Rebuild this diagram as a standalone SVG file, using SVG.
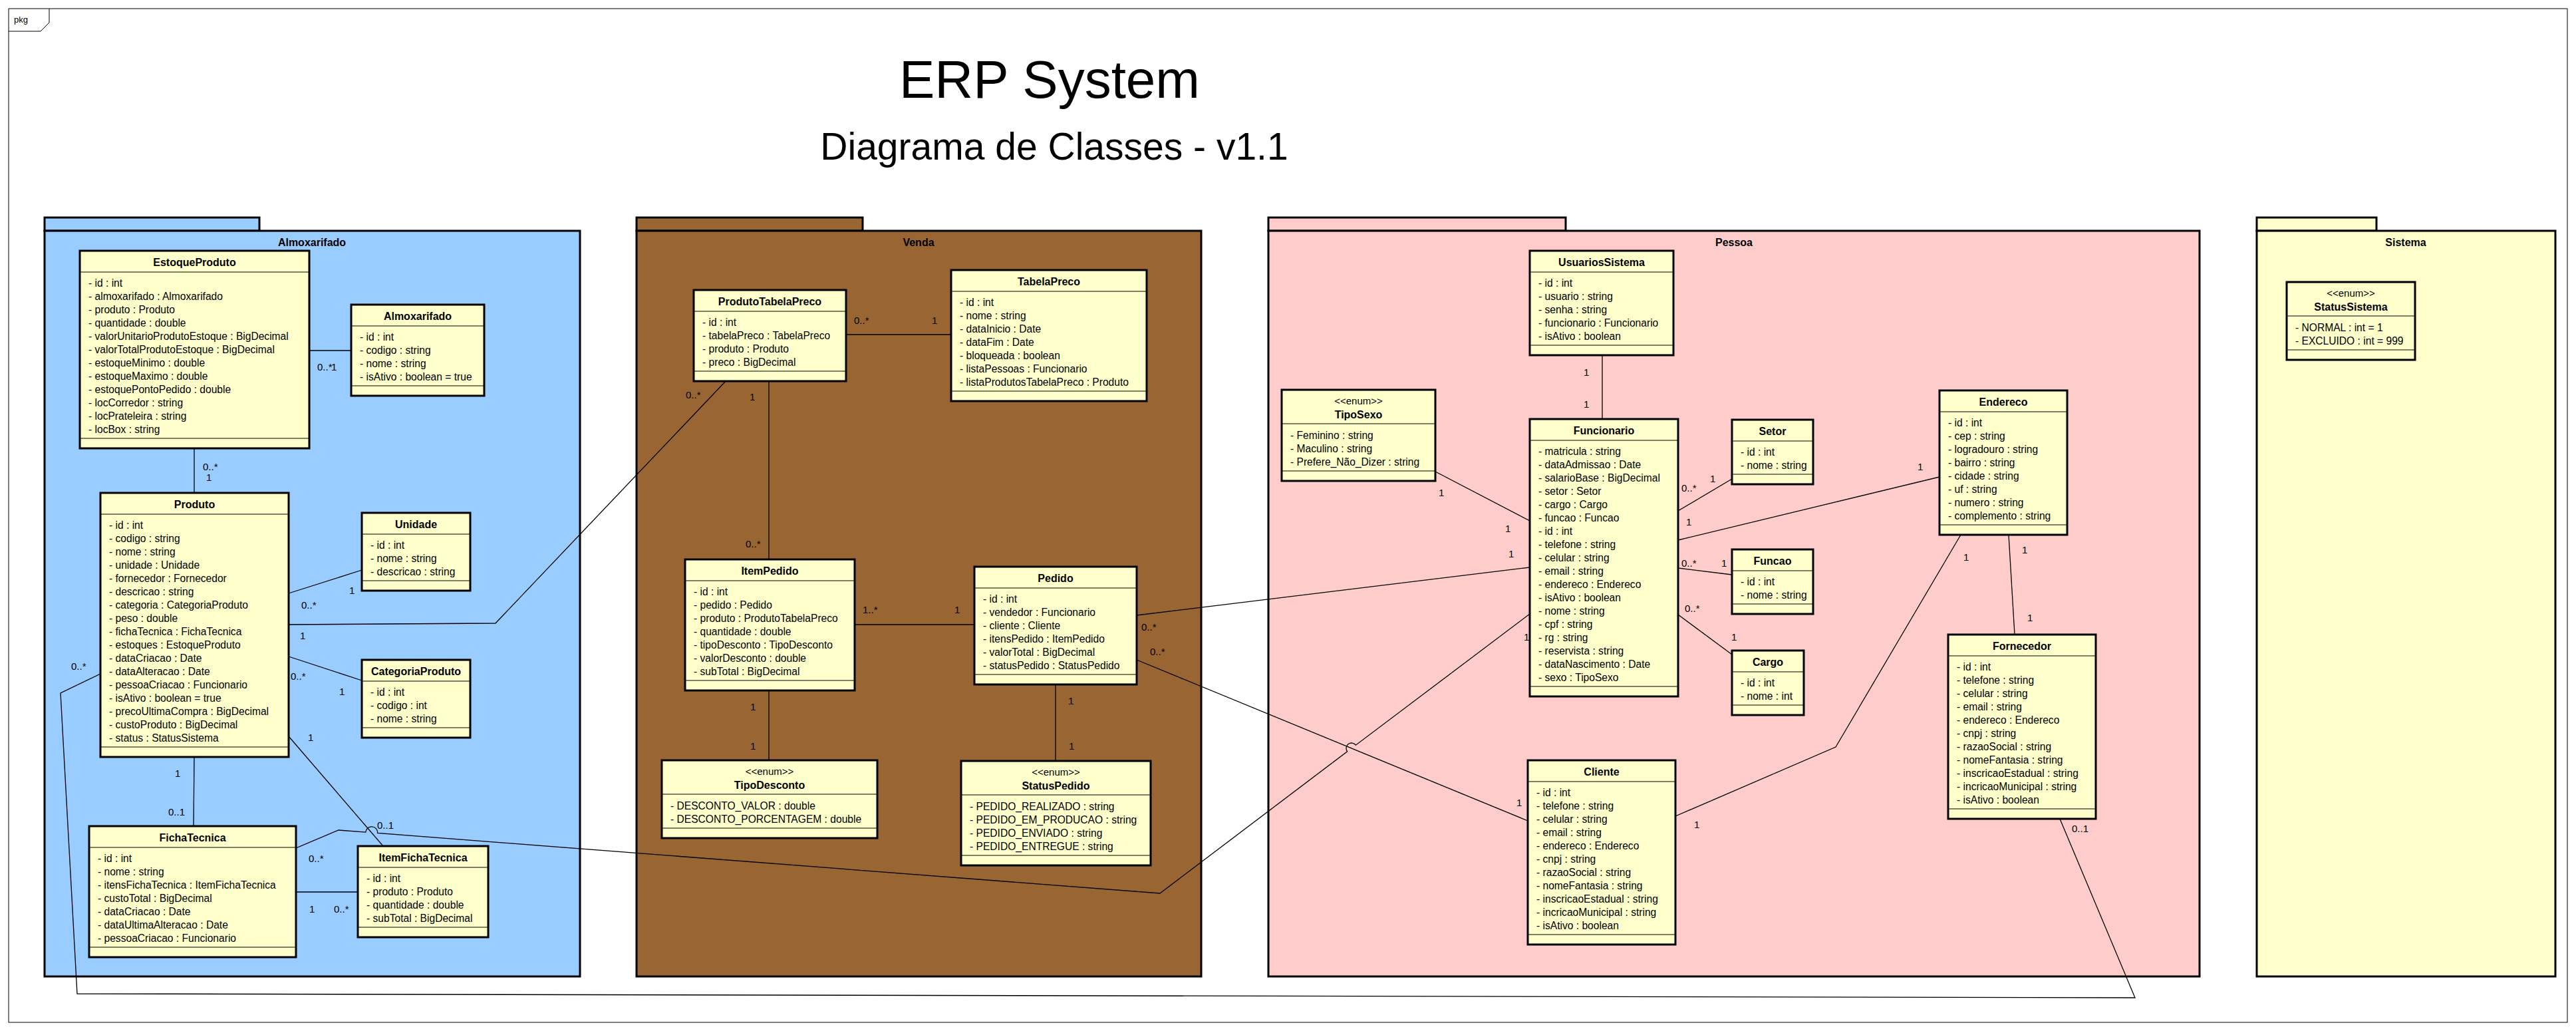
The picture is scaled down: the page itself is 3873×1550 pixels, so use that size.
<svg xmlns="http://www.w3.org/2000/svg" width="3873" height="1550" viewBox="0 0 3873 1550">
<style>
text{font-family:"Liberation Sans",Arial,sans-serif;fill:#000}
.pk{stroke:#000;stroke-width:3}
.c{fill:#FFFFCC;stroke:#000;stroke-width:3}
.s{stroke:#000;stroke-width:1}
.t{font-size:16px;font-weight:bold;text-anchor:middle}
.a{font-size:15.6px}
.e{font-size:15px;text-anchor:middle}
.m{font-size:15px}
.pl{font-size:16px;font-weight:bold;text-anchor:middle}
.ln{fill:none;stroke:#000;stroke-width:1.3}
</style>
<rect x="0" y="0" width="3873" height="1550" fill="#fff"/>
<g id="frame">
<rect x="13" y="13" width="3847" height="1524" fill="none" stroke="#000" stroke-width="1"/>
<path d="M13,47 H61 L74,34 V13" fill="none" stroke="#000" stroke-width="1"/>
<text x="21" y="34" style="font-size:13px">pkg</text>
<text x="1578" y="147" style="font-size:80px;text-anchor:middle">ERP System</text>
<text x="1585" y="240" style="font-size:57px;text-anchor:middle">Diagrama de Classes - v1.1</text>
</g>
<g id="pkg-Almoxarifado">
<rect class="pk" x="67" y="327" width="323" height="20" fill="#99CCFF"/>
<rect class="pk" x="67" y="347" width="805" height="1121" fill="#99CCFF"/>
<text class="pl" x="469" y="370">Almoxarifado</text>
</g>
<g id="pkg-Venda">
<rect class="pk" x="957" y="327" width="340" height="20" fill="#996633"/>
<rect class="pk" x="957" y="347" width="849" height="1121" fill="#996633"/>
<text class="pl" x="1381" y="370">Venda</text>
</g>
<g id="pkg-Pessoa">
<rect class="pk" x="1907" y="327" width="447" height="20" fill="#FFCCCC"/>
<rect class="pk" x="1907" y="347" width="1400" height="1121" fill="#FFCCCC"/>
<text class="pl" x="2607" y="370">Pessoa</text>
</g>
<g id="pkg-Sistema">
<rect class="pk" x="3393" y="327" width="180" height="20" fill="#FFFFCC"/>
<rect class="pk" x="3393" y="347" width="449" height="1121" fill="#FFFFCC"/>
<text class="pl" x="3617" y="370">Sistema</text>
</g>
<g id="connectors">
<path class="ln" d="M465,527 H528"/>
<path class="ln" d="M292,674 V741"/>
<path class="ln" d="M434,892 L544,857"/>
<path class="ln" d="M434,939 L745,937 L1092,572"/>
<path class="ln" d="M434,987 L544,1023"/>
<path class="ln" d="M434,1107 L576,1272"/>
<path class="ln" d="M292,1138 L291,1242"/>
<path class="ln" d="M445,1341 H538"/>
<path class="ln" d="M445,1275 L509,1248 L549.7,1251.1 A9,9 0 0 1 567.7,1252.5 L1744,1343 L2025.6,1129.8 A8,8 0 0 1 2038.4,1120.2 L2300,923"/>
<path class="ln" d="M151,1013 L91,1042 L116,1494 L3210,1500 L3097,1231"/>
<path class="ln" d="M1272,503 H1430"/>
<path class="ln" d="M1156,572 V841"/>
<path class="ln" d="M1285,939 H1465"/>
<path class="ln" d="M1156,1038 V1143"/>
<path class="ln" d="M1587,1029 V1144"/>
<path class="ln" d="M1709,925 L2300,853"/>
<path class="ln" d="M1709,992 L2297,1234"/>
<path class="ln" d="M2409,534 V630"/>
<path class="ln" d="M2158,709 L2300,783"/>
<path class="ln" d="M2523,768 L2604,720"/>
<path class="ln" d="M2523,812 L2916,717"/>
<path class="ln" d="M2523,854 L2604,864"/>
<path class="ln" d="M2523,924 L2604,984"/>
<path class="ln" d="M2519,1227 L2760,1123 L2948,804"/>
<path class="ln" d="M3020,804 L3029,954"/>
<text class="m" x="477" y="557">0..*</text><text class="m" x="498" y="557">1</text>
<text class="m" x="305" y="707">0..*</text><text class="m" x="310" y="723">1</text>
<text class="m" x="525" y="893">1</text><text class="m" x="453" y="915">0..*</text>
<text class="m" x="451" y="961">1</text><text class="m" x="1031" y="599">0..*</text>
<text class="m" x="437" y="1022">0..*</text><text class="m" x="510" y="1045">1</text>
<text class="m" x="463" y="1114">1</text><text class="m" x="567" y="1246">0..1</text>
<text class="m" x="263" y="1168">1</text><text class="m" x="253" y="1226">0..1</text>
<text class="m" x="465" y="1372">1</text><text class="m" x="502" y="1372">0..*</text>
<text class="m" x="464" y="1296">0..*</text><text class="m" x="2291" y="963">1</text>
<text class="m" x="107" y="1007">0..*</text><text class="m" x="3115" y="1251">0..1</text>
<text class="m" x="1284" y="487">0..*</text><text class="m" x="1401" y="487">1</text>
<text class="m" x="1127" y="602">1</text><text class="m" x="1121" y="823">0..*</text>
<text class="m" x="1297" y="922">1..*</text><text class="m" x="1435" y="922">1</text>
<text class="m" x="1128" y="1068">1</text><text class="m" x="1128" y="1127">1</text>
<text class="m" x="1606" y="1059">1</text><text class="m" x="1607" y="1127">1</text>
<text class="m" x="1716" y="948">0..*</text><text class="m" x="2268" y="838">1</text>
<text class="m" x="1729" y="985">0..*</text><text class="m" x="2280" y="1212">1</text>
<text class="m" x="2381" y="565">1</text><text class="m" x="2381" y="613">1</text>
<text class="m" x="2163" y="746">1</text><text class="m" x="2263" y="800">1</text>
<text class="m" x="2528" y="739">0..*</text><text class="m" x="2571" y="725">1</text>
<text class="m" x="2535" y="790">1</text><text class="m" x="2883" y="707">1</text>
<text class="m" x="2528" y="852">0..*</text><text class="m" x="2588" y="852">1</text>
<text class="m" x="2533" y="920">0..*</text><text class="m" x="2603" y="963">1</text>
<text class="m" x="2547" y="1245">1</text><text class="m" x="2952" y="843">1</text>
<text class="m" x="3040" y="832">1</text><text class="m" x="3048" y="934">1</text>
</g>
<g id="EstoqueProduto">
<rect class="c" x="120" y="377" width="345" height="297"/>
<text class="t" x="292.5" y="400">EstoqueProduto</text>
<line class="s" x1="121" y1="409" x2="464" y2="409"/>
<text class="a" x="133" y="431">- id : int</text>
<text class="a" x="133" y="451">- almoxarifado : Almoxarifado</text>
<text class="a" x="133" y="471">- produto : Produto</text>
<text class="a" x="133" y="491">- quantidade : double</text>
<text class="a" x="133" y="511">- valorUnitarioProdutoEstoque : BigDecimal</text>
<text class="a" x="133" y="531">- valorTotalProdutoEstoque : BigDecimal</text>
<text class="a" x="133" y="551">- estoqueMinimo : double</text>
<text class="a" x="133" y="571">- estoqueMaximo : double</text>
<text class="a" x="133" y="591">- estoquePontoPedido : double</text>
<text class="a" x="133" y="611">- locCorredor : string</text>
<text class="a" x="133" y="631">- locPrateleira : string</text>
<text class="a" x="133" y="651">- locBox : string</text>
<line class="s" x1="121" y1="659" x2="464" y2="659"/>
</g>
<g id="Almoxarifado">
<rect class="c" x="528" y="458" width="200" height="137"/>
<text class="t" x="628" y="481">Almoxarifado</text>
<line class="s" x1="529" y1="490" x2="727" y2="490"/>
<text class="a" x="541" y="512">- id : int</text>
<text class="a" x="541" y="532">- codigo : string</text>
<text class="a" x="541" y="552">- nome : string</text>
<text class="a" x="541" y="572">- isAtivo : boolean = true</text>
<line class="s" x1="529" y1="580" x2="727" y2="580"/>
</g>
<g id="Produto">
<rect class="c" x="151" y="741" width="283" height="397"/>
<text class="t" x="292.5" y="764">Produto</text>
<line class="s" x1="152" y1="773" x2="433" y2="773"/>
<text class="a" x="164" y="795">- id : int</text>
<text class="a" x="164" y="815">- codigo : string</text>
<text class="a" x="164" y="835">- nome : string</text>
<text class="a" x="164" y="855">- unidade : Unidade</text>
<text class="a" x="164" y="875">- fornecedor : Fornecedor</text>
<text class="a" x="164" y="895">- descricao : string</text>
<text class="a" x="164" y="915">- categoria : CategoriaProduto</text>
<text class="a" x="164" y="935">- peso : double</text>
<text class="a" x="164" y="955">- fichaTecnica : FichaTecnica</text>
<text class="a" x="164" y="975">- estoques : EstoqueProduto</text>
<text class="a" x="164" y="995">- dataCriacao : Date</text>
<text class="a" x="164" y="1015">- dataAlteracao : Date</text>
<text class="a" x="164" y="1035">- pessoaCriacao : Funcionario</text>
<text class="a" x="164" y="1055">- isAtivo : boolean = true</text>
<text class="a" x="164" y="1075">- precoUltimaCompra : BigDecimal</text>
<text class="a" x="164" y="1095">- custoProduto : BigDecimal</text>
<text class="a" x="164" y="1115">- status : StatusSistema</text>
<line class="s" x1="152" y1="1123" x2="433" y2="1123"/>
</g>
<g id="Unidade">
<rect class="c" x="544" y="771" width="163" height="117"/>
<text class="t" x="625.5" y="794">Unidade</text>
<line class="s" x1="545" y1="803" x2="706" y2="803"/>
<text class="a" x="557" y="825">- id : int</text>
<text class="a" x="557" y="845">- nome : string</text>
<text class="a" x="557" y="865">- descricao : string</text>
<line class="s" x1="545" y1="873" x2="706" y2="873"/>
</g>
<g id="CategoriaProduto">
<rect class="c" x="544" y="992" width="163" height="117"/>
<text class="t" x="625.5" y="1015">CategoriaProduto</text>
<line class="s" x1="545" y1="1024" x2="706" y2="1024"/>
<text class="a" x="557" y="1046">- id : int</text>
<text class="a" x="557" y="1066">- codigo : int</text>
<text class="a" x="557" y="1086">- nome : string</text>
<line class="s" x1="545" y1="1094" x2="706" y2="1094"/>
</g>
<g id="FichaTecnica">
<rect class="c" x="134" y="1242" width="311" height="197"/>
<text class="t" x="289.5" y="1265">FichaTecnica</text>
<line class="s" x1="135" y1="1274" x2="444" y2="1274"/>
<text class="a" x="147" y="1296">- id : int</text>
<text class="a" x="147" y="1316">- nome : string</text>
<text class="a" x="147" y="1336">- itensFichaTecnica : ItemFichaTecnica</text>
<text class="a" x="147" y="1356">- custoTotal : BigDecimal</text>
<text class="a" x="147" y="1376">- dataCriacao : Date</text>
<text class="a" x="147" y="1396">- dataUltimaAlteracao : Date</text>
<text class="a" x="147" y="1416">- pessoaCriacao : Funcionario</text>
<line class="s" x1="135" y1="1424" x2="444" y2="1424"/>
</g>
<g id="ItemFichaTecnica">
<rect class="c" x="538" y="1272" width="196" height="137"/>
<text class="t" x="636" y="1295">ItemFichaTecnica</text>
<line class="s" x1="539" y1="1304" x2="733" y2="1304"/>
<text class="a" x="551" y="1326">- id : int</text>
<text class="a" x="551" y="1346">- produto : Produto</text>
<text class="a" x="551" y="1366">- quantidade : double</text>
<text class="a" x="551" y="1386">- subTotal : BigDecimal</text>
<line class="s" x1="539" y1="1394" x2="733" y2="1394"/>
</g>
<g id="ProdutoTabelaPreco">
<rect class="c" x="1043" y="436" width="229" height="137"/>
<text class="t" x="1157.5" y="459">ProdutoTabelaPreco</text>
<line class="s" x1="1044" y1="468" x2="1271" y2="468"/>
<text class="a" x="1056" y="490">- id : int</text>
<text class="a" x="1056" y="510">- tabelaPreco : TabelaPreco</text>
<text class="a" x="1056" y="530">- produto : Produto</text>
<text class="a" x="1056" y="550">- preco : BigDecimal</text>
<line class="s" x1="1044" y1="558" x2="1271" y2="558"/>
</g>
<g id="TabelaPreco">
<rect class="c" x="1430" y="406" width="294" height="197"/>
<text class="t" x="1577" y="429">TabelaPreco</text>
<line class="s" x1="1431" y1="438" x2="1723" y2="438"/>
<text class="a" x="1443" y="460">- id : int</text>
<text class="a" x="1443" y="480">- nome : string</text>
<text class="a" x="1443" y="500">- dataInicio : Date</text>
<text class="a" x="1443" y="520">- dataFim : Date</text>
<text class="a" x="1443" y="540">- bloqueada : boolean</text>
<text class="a" x="1443" y="560">- listaPessoas : Funcionario</text>
<text class="a" x="1443" y="580">- listaProdutosTabelaPreco : Produto</text>
<line class="s" x1="1431" y1="588" x2="1723" y2="588"/>
</g>
<g id="ItemPedido">
<rect class="c" x="1030" y="841" width="255" height="197"/>
<text class="t" x="1157.5" y="864">ItemPedido</text>
<line class="s" x1="1031" y1="873" x2="1284" y2="873"/>
<text class="a" x="1043" y="895">- id : int</text>
<text class="a" x="1043" y="915">- pedido : Pedido</text>
<text class="a" x="1043" y="935">- produto : ProdutoTabelaPreco</text>
<text class="a" x="1043" y="955">- quantidade : double</text>
<text class="a" x="1043" y="975">- tipoDesconto : TipoDesconto</text>
<text class="a" x="1043" y="995">- valorDesconto : double</text>
<text class="a" x="1043" y="1015">- subTotal : BigDecimal</text>
<line class="s" x1="1031" y1="1023" x2="1284" y2="1023"/>
</g>
<g id="Pedido">
<rect class="c" x="1465" y="852" width="244" height="177"/>
<text class="t" x="1587" y="875">Pedido</text>
<line class="s" x1="1466" y1="884" x2="1708" y2="884"/>
<text class="a" x="1478" y="906">- id : int</text>
<text class="a" x="1478" y="926">- vendedor : Funcionario</text>
<text class="a" x="1478" y="946">- cliente : Cliente</text>
<text class="a" x="1478" y="966">- itensPedido : ItemPedido</text>
<text class="a" x="1478" y="986">- valorTotal : BigDecimal</text>
<text class="a" x="1478" y="1006">- statusPedido : StatusPedido</text>
<line class="s" x1="1466" y1="1014" x2="1708" y2="1014"/>
</g>
<g id="TipoDesconto">
<rect class="c" x="995" y="1143" width="324" height="117"/>
<text class="e" x="1157" y="1165">&lt;&lt;enum&gt;&gt;</text>
<text class="t" x="1157" y="1186">TipoDesconto</text>
<line class="s" x1="996" y1="1194" x2="1318" y2="1194"/>
<text class="a" x="1008" y="1217">- DESCONTO_VALOR : double</text>
<text class="a" x="1008" y="1237">- DESCONTO_PORCENTAGEM : double</text>
<line class="s" x1="996" y1="1245" x2="1318" y2="1245"/>
</g>
<g id="StatusPedido">
<rect class="c" x="1445" y="1144" width="285" height="157"/>
<text class="e" x="1587.5" y="1166">&lt;&lt;enum&gt;&gt;</text>
<text class="t" x="1587.5" y="1187">StatusPedido</text>
<line class="s" x1="1446" y1="1195" x2="1729" y2="1195"/>
<text class="a" x="1458" y="1218">- PEDIDO_REALIZADO : string</text>
<text class="a" x="1458" y="1238">- PEDIDO_EM_PRODUCAO : string</text>
<text class="a" x="1458" y="1258">- PEDIDO_ENVIADO : string</text>
<text class="a" x="1458" y="1278">- PEDIDO_ENTREGUE : string</text>
<line class="s" x1="1446" y1="1286" x2="1729" y2="1286"/>
</g>
<g id="UsuariosSistema">
<rect class="c" x="2300" y="377" width="216" height="157"/>
<text class="t" x="2408" y="400">UsuariosSistema</text>
<line class="s" x1="2301" y1="409" x2="2515" y2="409"/>
<text class="a" x="2313" y="431">- id : int</text>
<text class="a" x="2313" y="451">- usuario : string</text>
<text class="a" x="2313" y="471">- senha : string</text>
<text class="a" x="2313" y="491">- funcionario : Funcionario</text>
<text class="a" x="2313" y="511">- isAtivo : boolean</text>
<line class="s" x1="2301" y1="519" x2="2515" y2="519"/>
</g>
<g id="TipoSexo">
<rect class="c" x="1927" y="586" width="231" height="137"/>
<text class="e" x="2042.5" y="608">&lt;&lt;enum&gt;&gt;</text>
<text class="t" x="2042.5" y="629">TipoSexo</text>
<line class="s" x1="1928" y1="637" x2="2157" y2="637"/>
<text class="a" x="1940" y="660">- Feminino : string</text>
<text class="a" x="1940" y="680">- Maculino : string</text>
<text class="a" x="1940" y="700">- Prefere_Não_Dizer : string</text>
<line class="s" x1="1928" y1="708" x2="2157" y2="708"/>
</g>
<g id="Funcionario">
<rect class="c" x="2300" y="630" width="223" height="417"/>
<text class="t" x="2411.5" y="653">Funcionario</text>
<line class="s" x1="2301" y1="662" x2="2522" y2="662"/>
<text class="a" x="2313" y="684">- matricula : string</text>
<text class="a" x="2313" y="704">- dataAdmissao : Date</text>
<text class="a" x="2313" y="724">- salarioBase : BigDecimal</text>
<text class="a" x="2313" y="744">- setor : Setor</text>
<text class="a" x="2313" y="764">- cargo : Cargo</text>
<text class="a" x="2313" y="784">- funcao : Funcao</text>
<text class="a" x="2313" y="804">- id : int</text>
<text class="a" x="2313" y="824">- telefone : string</text>
<text class="a" x="2313" y="844">- celular : string</text>
<text class="a" x="2313" y="864">- email : string</text>
<text class="a" x="2313" y="884">- endereco : Endereco</text>
<text class="a" x="2313" y="904">- isAtivo : boolean</text>
<text class="a" x="2313" y="924">- nome : string</text>
<text class="a" x="2313" y="944">- cpf : string</text>
<text class="a" x="2313" y="964">- rg : string</text>
<text class="a" x="2313" y="984">- reservista : string</text>
<text class="a" x="2313" y="1004">- dataNascimento : Date</text>
<text class="a" x="2313" y="1024">- sexo : TipoSexo</text>
<line class="s" x1="2301" y1="1032" x2="2522" y2="1032"/>
</g>
<g id="Setor">
<rect class="c" x="2604" y="631" width="122" height="97"/>
<text class="t" x="2665" y="654">Setor</text>
<line class="s" x1="2605" y1="663" x2="2725" y2="663"/>
<text class="a" x="2617" y="685">- id : int</text>
<text class="a" x="2617" y="705">- nome : string</text>
<line class="s" x1="2605" y1="713" x2="2725" y2="713"/>
</g>
<g id="Funcao">
<rect class="c" x="2604" y="826" width="122" height="97"/>
<text class="t" x="2665" y="849">Funcao</text>
<line class="s" x1="2605" y1="858" x2="2725" y2="858"/>
<text class="a" x="2617" y="880">- id : int</text>
<text class="a" x="2617" y="900">- nome : string</text>
<line class="s" x1="2605" y1="908" x2="2725" y2="908"/>
</g>
<g id="Cargo">
<rect class="c" x="2604" y="978" width="108" height="97"/>
<text class="t" x="2658" y="1001">Cargo</text>
<line class="s" x1="2605" y1="1010" x2="2711" y2="1010"/>
<text class="a" x="2617" y="1032">- id : int</text>
<text class="a" x="2617" y="1052">- nome : int</text>
<line class="s" x1="2605" y1="1060" x2="2711" y2="1060"/>
</g>
<g id="Endereco">
<rect class="c" x="2916" y="587" width="192" height="217"/>
<text class="t" x="3012" y="610">Endereco</text>
<line class="s" x1="2917" y1="619" x2="3107" y2="619"/>
<text class="a" x="2929" y="641">- id : int</text>
<text class="a" x="2929" y="661">- cep : string</text>
<text class="a" x="2929" y="681">- logradouro : string</text>
<text class="a" x="2929" y="701">- bairro : string</text>
<text class="a" x="2929" y="721">- cidade : string</text>
<text class="a" x="2929" y="741">- uf : string</text>
<text class="a" x="2929" y="761">- numero : string</text>
<text class="a" x="2929" y="781">- complemento : string</text>
<line class="s" x1="2917" y1="789" x2="3107" y2="789"/>
</g>
<g id="Fornecedor">
<rect class="c" x="2929" y="954" width="222" height="277"/>
<text class="t" x="3040" y="977">Fornecedor</text>
<line class="s" x1="2930" y1="986" x2="3150" y2="986"/>
<text class="a" x="2942" y="1008">- id : int</text>
<text class="a" x="2942" y="1028">- telefone : string</text>
<text class="a" x="2942" y="1048">- celular : string</text>
<text class="a" x="2942" y="1068">- email : string</text>
<text class="a" x="2942" y="1088">- endereco : Endereco</text>
<text class="a" x="2942" y="1108">- cnpj : string</text>
<text class="a" x="2942" y="1128">- razaoSocial : string</text>
<text class="a" x="2942" y="1148">- nomeFantasia : string</text>
<text class="a" x="2942" y="1168">- inscricaoEstadual : string</text>
<text class="a" x="2942" y="1188">- incricaoMunicipal : string</text>
<text class="a" x="2942" y="1208">- isAtivo : boolean</text>
<line class="s" x1="2930" y1="1216" x2="3150" y2="1216"/>
</g>
<g id="Cliente">
<rect class="c" x="2297" y="1143" width="222" height="277"/>
<text class="t" x="2408" y="1166">Cliente</text>
<line class="s" x1="2298" y1="1175" x2="2518" y2="1175"/>
<text class="a" x="2310" y="1197">- id : int</text>
<text class="a" x="2310" y="1217">- telefone : string</text>
<text class="a" x="2310" y="1237">- celular : string</text>
<text class="a" x="2310" y="1257">- email : string</text>
<text class="a" x="2310" y="1277">- endereco : Endereco</text>
<text class="a" x="2310" y="1297">- cnpj : string</text>
<text class="a" x="2310" y="1317">- razaoSocial : string</text>
<text class="a" x="2310" y="1337">- nomeFantasia : string</text>
<text class="a" x="2310" y="1357">- inscricaoEstadual : string</text>
<text class="a" x="2310" y="1377">- incricaoMunicipal : string</text>
<text class="a" x="2310" y="1397">- isAtivo : boolean</text>
<line class="s" x1="2298" y1="1405" x2="2518" y2="1405"/>
</g>
<g id="StatusSistema">
<rect class="c" x="3438" y="424" width="193" height="117"/>
<text class="e" x="3534.5" y="446">&lt;&lt;enum&gt;&gt;</text>
<text class="t" x="3534.5" y="467">StatusSistema</text>
<line class="s" x1="3439" y1="475" x2="3630" y2="475"/>
<text class="a" x="3451" y="498">- NORMAL : int = 1</text>
<text class="a" x="3451" y="518">- EXCLUIDO : int = 999</text>
<line class="s" x1="3439" y1="526" x2="3630" y2="526"/>
</g>
</svg>
